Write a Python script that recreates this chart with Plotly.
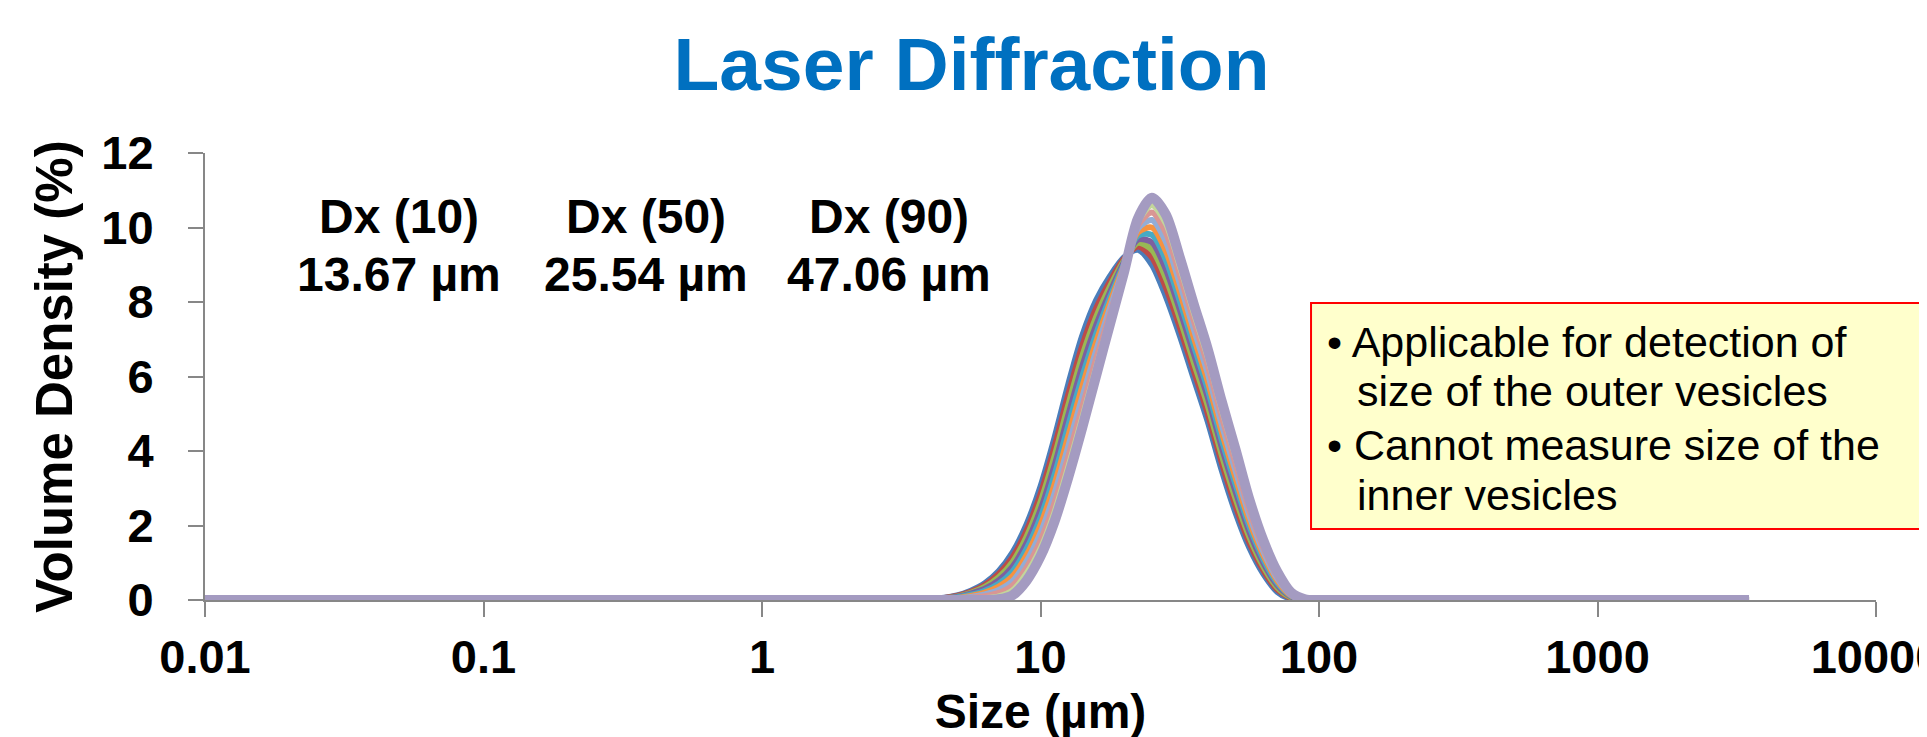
import plotly.graph_objects as go

# ---- data ----
size_um = [0.01, 3.98, 5.01, 5.62, 6.31, 7.08, 7.94, 8.91, 10.0, 11.22, 12.59, 14.13,
           15.85, 17.78, 19.95, 22.39, 25.12, 28.18, 31.62, 35.48, 39.81, 44.67,
           50.12, 56.23, 63.10, 70.79, 79.43, 89.13, 100.0, 3500.0]

run1 = [0, 0.02, 0.12, 0.25, 0.45, 0.78, 1.28, 2.03, 3.05, 4.35, 5.80, 7.10, 8.05, 8.70, 9.20,
        9.40, 9.00, 8.15, 7.10, 5.95, 4.80, 3.50, 2.35, 1.40, 0.70, 0.22, 0.03, 0, 0, 0]
run2 = [0, 0.02, 0.11, 0.22, 0.40, 0.70, 1.15, 1.86, 2.84, 4.10, 5.52, 6.83, 7.83, 8.56, 9.16,
        9.49, 9.20, 8.39, 7.33, 6.17, 5.02, 3.71, 2.54, 1.54, 0.80, 0.28, 0.05, 0, 0, 0]
run3 = [0, 0.02, 0.09, 0.19, 0.35, 0.61, 1.02, 1.70, 2.63, 3.85, 5.24, 6.55, 7.60, 8.42, 9.11,
        9.59, 9.40, 8.64, 7.57, 6.39, 5.23, 3.91, 2.73, 1.69, 0.90, 0.34, 0.07, 0, 0, 0]
run4 = [0, 0.01, 0.08, 0.17, 0.30, 0.53, 0.90, 1.53, 2.42, 3.60, 4.97, 6.28, 7.38, 8.27, 9.07,
        9.68, 9.60, 8.88, 7.80, 6.62, 5.45, 4.12, 2.92, 1.83, 1.00, 0.40, 0.09, 0, 0, 0]
run5 = [0, 0.01, 0.07, 0.14, 0.25, 0.44, 0.77, 1.37, 2.21, 3.35, 4.69, 6.00, 7.15, 8.13, 9.02,
        9.78, 9.80, 9.13, 8.03, 6.84, 5.67, 4.32, 3.11, 1.98, 1.10, 0.46, 0.11, 0.01, 0, 0]
run6 = [0, 0.01, 0.05, 0.11, 0.20, 0.36, 0.64, 1.20, 2.01, 3.10, 4.41, 5.73, 6.93, 7.99, 8.98,
        9.87, 10.00, 9.37, 8.27, 7.06, 5.88, 4.53, 3.29, 2.12, 1.20, 0.52, 0.12, 0.01, 0, 0]
run7 = [0, 0.01, 0.04, 0.08, 0.15, 0.27, 0.51, 1.04, 1.80, 2.85, 4.13, 5.45, 6.70, 7.85, 8.93,
        9.97, 10.20, 9.62, 8.50, 7.28, 6.10, 4.73, 3.48, 2.27, 1.30, 0.58, 0.14, 0.01, 0, 0]
run8 = [0, 0, 0.03, 0.06, 0.10, 0.19, 0.39, 0.87, 1.59, 2.60, 3.86, 5.18, 6.48, 7.70, 8.89,
        10.06, 10.40, 9.86, 8.73, 7.51, 6.32, 4.94, 3.67, 2.41, 1.40, 0.64, 0.16, 0.02, 0, 0]
run9 = [0, 0, 0.01, 0.03, 0.05, 0.10, 0.26, 0.71, 1.38, 2.35, 3.58, 4.90, 6.25, 7.56, 8.84,
        10.16, 10.60, 10.11, 8.97, 7.73, 6.53, 5.14, 3.86, 2.56, 1.50, 0.70, 0.18, 0.02, 0, 0]
run10 = [0, 0, 0, 0, 0, 0.02, 0.13, 0.52, 1.17, 2.10, 3.30, 4.63, 6.03, 7.42, 8.80,
         10.25, 10.80, 10.35, 9.20, 7.95, 6.75, 5.35, 4.05, 2.70, 1.60, 0.76, 0.20, 0.02, 0, 0]

runs = [run1, run2, run3, run4, run5, run6, run7, run8, run9, run10]
run_colors = ["#4A7EBB", "#BE4B48", "#98B954", "#7D60A0", "#46AAC5",
              "#F69240", "#93ADD6", "#D99694", "#C3D69B", "#A49BC1"]
run_widths = [6, 6, 6, 6, 6, 6, 6, 6, 6, 10]

x_tickvals = [0.01, 0.1, 1, 10, 100, 1000, 10000]
x_ticktext = ["0.01", "0.1", "1", "10", "100", "1000", "10000"]
y_tickvals = [0, 2, 4, 6, 8, 10, 12]

dx_names = ["Dx (10)", "Dx (50)", "Dx (90)"]
dx_values = ["13.67 µm", "25.54 µm", "47.06 µm"]
dx_pos_log = [-1.303, -0.416, 0.456]

note_lines = ["• Applicable for detection of", "size of the outer vesicles",
              "• Cannot measure size of the", "inner vesicles"]
note_x = [0.6700, 0.6885, 0.6700, 0.6885]
note_y = [0.5772, 0.4676, 0.3468, 0.2349]

FONT = "Liberation Sans, Arial, sans-serif"

fig = go.Figure()
for i, r in enumerate(runs):
    fig.add_trace(go.Scatter(
        x=size_um, y=r, mode="lines", name=f"Run {i+1}",
        line=dict(color=run_colors[i], width=run_widths[i], shape="spline", smoothing=0.8),
        hoverinfo="x+y",
    ))

for nm, val, xl in zip(dx_names, dx_values, dx_pos_log):
    fig.add_annotation(x=xl, y=10.3, xref="x", yref="y", text=nm, showarrow=False,
                       font=dict(family=FONT, size=48, color="black", weight="bold"),
                       xanchor="center", yanchor="middle")
    fig.add_annotation(x=xl, y=8.75, xref="x", yref="y", text=val, showarrow=False,
                       font=dict(family=FONT, size=48, color="black", weight="bold"),
                       xanchor="center", yanchor="middle")

fig.add_shape(type="rect", xref="paper", yref="paper", x0=0.6619, x1=1.0293, y0=0.1588, y1=0.6644,
              line=dict(color="#FF0000", width=2), fillcolor="#FFFFCC", layer="above")
for txt, xn, yn in zip(note_lines, note_x, note_y):
    fig.add_annotation(x=xn, y=yn, xref="paper", yref="paper", text=txt, showarrow=False,
                       font=dict(family=FONT, size=43, color="black"),
                       align="left", xanchor="left", yanchor="middle")

axis_grey = "#878787"
fig.update_layout(
    width=1927, height=737,
    margin=dict(l=197, r=59, t=145, b=145, autoexpand=False),
    paper_bgcolor="white", plot_bgcolor="white",
    showlegend=False,
    title=dict(text="Laser Diffraction", x=0.5, xref="container", xanchor="center",
               y=0.925, yref="container", yanchor="middle",
               font=dict(family=FONT, size=75, color="#0070C0", weight="bold")),
    xaxis=dict(type="log", range=[-2, 4], tickvals=x_tickvals, ticktext=x_ticktext,
               automargin=False, ticklabeloverflow="allow",
               showgrid=False, zeroline=False, showline=True, linecolor=axis_grey, linewidth=2,
               ticks="outside", ticklen=15, tickwidth=2, tickcolor=axis_grey,
               ticklabelstandoff=0, layer="below traces",
               tickfont=dict(family=FONT, size=47, color="black", weight="bold"),
               title=dict(text="Size (µm)", standoff=12,
                          font=dict(family=FONT, size=48, color="black", weight="bold"))),
    yaxis=dict(range=[0, 12], tickvals=y_tickvals, automargin=False,
               showgrid=False, zeroline=False, showline=True, linecolor=axis_grey, linewidth=2,
               ticks="outside", ticklen=15, tickwidth=2, tickcolor=axis_grey,
               ticklabelstandoff=25, layer="below traces",
               tickfont=dict(family=FONT, size=47, color="black", weight="bold"),
               title=dict(text="Volume Density (%)", standoff=12,
                          font=dict(family=FONT, size=51, color="black", weight="bold"))),
)

fig.write_html("out.html")
